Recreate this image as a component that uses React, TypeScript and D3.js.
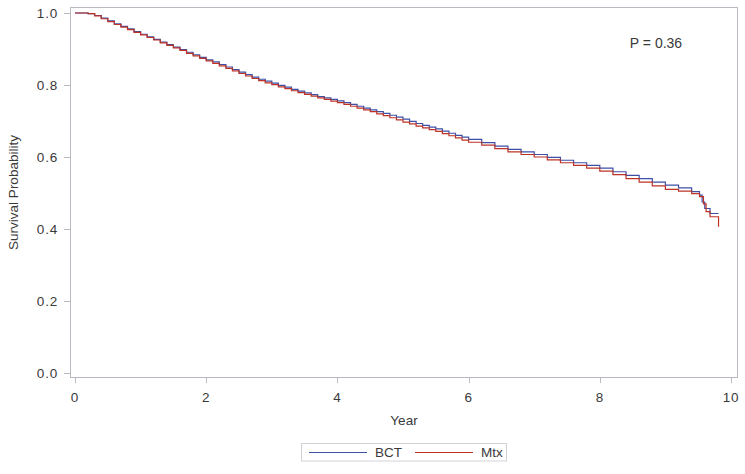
import React from "react";
import * as d3 from "d3";

const bctTime = [0, 0.1, 0.2, 0.3, 0.4, 0.5, 0.6, 0.7, 0.8, 0.9, 1.0, 1.1, 1.2, 1.3, 1.4, 1.5, 1.6, 1.7, 1.8, 1.9, 2.0, 2.1, 2.2, 2.3, 2.4, 2.5, 2.6, 2.7, 2.8, 2.9, 3.0, 3.1, 3.2, 3.3, 3.4, 3.5, 3.6, 3.7, 3.8, 3.9, 4.0, 4.1, 4.2, 4.3, 4.4, 4.5, 4.6, 4.7, 4.8, 4.9, 5.0, 5.1, 5.2, 5.3, 5.4, 5.5, 5.6, 5.7, 5.8, 5.9, 6.0, 6.2, 6.4, 6.6, 6.8, 7.0, 7.2, 7.4, 7.6, 7.8, 8.0, 8.2, 8.4, 8.6, 8.8, 9.0, 9.2, 9.4, 9.52, 9.56, 9.6, 9.68, 9.81];
const bctSurv = [1.0, 1.0, 0.998, 0.993, 0.986, 0.978, 0.97, 0.963, 0.956, 0.948, 0.941, 0.934, 0.927, 0.919, 0.912, 0.905, 0.898, 0.891, 0.884, 0.877, 0.87, 0.864, 0.857, 0.85, 0.843, 0.836, 0.829, 0.822, 0.816, 0.811, 0.805, 0.799, 0.794, 0.788, 0.783, 0.778, 0.773, 0.768, 0.764, 0.76, 0.756, 0.751, 0.746, 0.741, 0.736, 0.731, 0.726, 0.721, 0.716, 0.711, 0.705, 0.699, 0.693, 0.688, 0.683, 0.678, 0.672, 0.666, 0.66, 0.655, 0.649, 0.64, 0.63, 0.621, 0.614, 0.607, 0.599, 0.591, 0.584, 0.577, 0.569, 0.559, 0.549, 0.54, 0.53, 0.522, 0.514, 0.504, 0.494, 0.475, 0.457, 0.443, 0.443];

const mtxTime = [0, 0.1, 0.2, 0.3, 0.4, 0.5, 0.6, 0.7, 0.8, 0.9, 1.0, 1.1, 1.2, 1.3, 1.4, 1.5, 1.6, 1.7, 1.8, 1.9, 2.0, 2.1, 2.2, 2.3, 2.4, 2.5, 2.6, 2.7, 2.8, 2.9, 3.0, 3.1, 3.2, 3.3, 3.4, 3.5, 3.6, 3.7, 3.8, 3.9, 4.0, 4.1, 4.2, 4.3, 4.4, 4.5, 4.6, 4.7, 4.8, 4.9, 5.0, 5.1, 5.2, 5.3, 5.4, 5.5, 5.6, 5.7, 5.8, 5.9, 6.0, 6.2, 6.4, 6.6, 6.8, 7.0, 7.2, 7.4, 7.6, 7.8, 8.0, 8.2, 8.4, 8.6, 8.8, 9.0, 9.2, 9.4, 9.52, 9.58, 9.62, 9.68, 9.81, 9.81];
const mtxSurv = [1.0, 1.0, 0.998, 0.992, 0.984, 0.976, 0.968, 0.961, 0.954, 0.946, 0.939, 0.932, 0.925, 0.917, 0.91, 0.903, 0.896, 0.888, 0.881, 0.874, 0.867, 0.86, 0.853, 0.846, 0.839, 0.832, 0.825, 0.818, 0.812, 0.806, 0.801, 0.795, 0.79, 0.784, 0.779, 0.774, 0.769, 0.764, 0.76, 0.755, 0.751, 0.746, 0.741, 0.736, 0.731, 0.726, 0.72, 0.715, 0.709, 0.703, 0.697, 0.692, 0.686, 0.681, 0.676, 0.671, 0.665, 0.659, 0.653, 0.647, 0.641, 0.633, 0.623, 0.614, 0.607, 0.6, 0.592, 0.584, 0.577, 0.569, 0.561, 0.551, 0.54, 0.53, 0.52, 0.51, 0.505, 0.498, 0.49, 0.47, 0.448, 0.434, 0.434, 0.406];

const xTicks = [0, 2, 4, 6, 8, 10];
const yTicks = [0.0, 0.2, 0.4, 0.6, 0.8, 1.0];
const seriesNames = ["BCT", "Mtx"];
const seriesColors = ["#3E4FA6", "#BC3326"];
const pLabel = "P = 0.36";

export default function App() {
  const W = 745, H = 474;
  const frame = { l: 70.5, t: 7.5, r: 737.5, b: 377.5 };
  const x = d3.scaleLinear().domain([0, 10]).range([75, 731]);
  const y = d3.scaleLinear().domain([0, 1]).range([373, 13]);
  const line = d3.line<[number, number]>().x(d => x(d[0])).y(d => y(d[1])).curve(d3.curveStepAfter);
  const bct = bctTime.map((t, i) => [t, bctSurv[i]] as [number, number]);
  const mtx = mtxTime.map((t, i) => [t, mtxSurv[i]] as [number, number]);
  const font = "'Liberation Sans', Arial, sans-serif";
  const txt = "#3a3a3a";
  const axisCol = "#B8BCC2";

  return (
    <svg width={W} height={H} style={{ position: "absolute", left: 0, top: 0, background: "#fff" }} fontFamily={font}>
      <rect x={frame.l} y={frame.t} width={frame.r - frame.l} height={frame.b - frame.t} fill="none" stroke={axisCol} strokeWidth={1} />
      {yTicks.map(v => (
        <g key={"y" + v}>
          <line x1={64} x2={70} y1={Math.round(y(v)) + 0.5} y2={Math.round(y(v)) + 0.5} stroke={axisCol} />
          <text x={58} y={y(v)} dy="0.35em" textAnchor="end" fontSize={13.5} fill={txt} letterSpacing={0.8}>{v.toFixed(1)}</text>
        </g>
      ))}
      {xTicks.map(v => (
        <g key={"x" + v}>
          <line x1={Math.round(x(v)) + 0.5} x2={Math.round(x(v)) + 0.5} y1={378} y2={383} stroke={axisCol} />
          <text x={x(v)} y={402} textAnchor="middle" fontSize={13.5} fill={txt} letterSpacing={0.8}>{v}</text>
        </g>
      ))}
      <text x={404} y={425} textAnchor="middle" fontSize={13.5} fill={txt}>Year</text>
      <text transform={`translate(18,${(frame.t + frame.b) / 2}) rotate(-90)`} textAnchor="middle" fontSize={13.5} fill={txt}>Survival Probability</text>
      <path d={line(bct) || ""} fill="none" stroke={seriesColors[0]} strokeWidth={1.2} />
      <path d={line(mtx) || ""} fill="none" stroke={seriesColors[1]} strokeWidth={1.2} />
      <text x={656} y={47.5} textAnchor="middle" fontSize={14} fill={txt}>{pLabel}</text>
      <rect x={301.5} y={443.5} width={205} height={17.5} fill="#fff" stroke="#D0D3D8" />
      <line x1={309} x2={367} y1={452.5} y2={452.5} stroke={seriesColors[0]} strokeWidth={1.2} />
      <text x={375} y={457} fontSize={13.5} fill={txt}>{seriesNames[0]}</text>
      <line x1={415} x2={473} y1={452.5} y2={452.5} stroke={seriesColors[1]} strokeWidth={1.2} />
      <text x={481} y={457} fontSize={13.5} fill={txt}>{seriesNames[1]}</text>
    </svg>
  );
}
